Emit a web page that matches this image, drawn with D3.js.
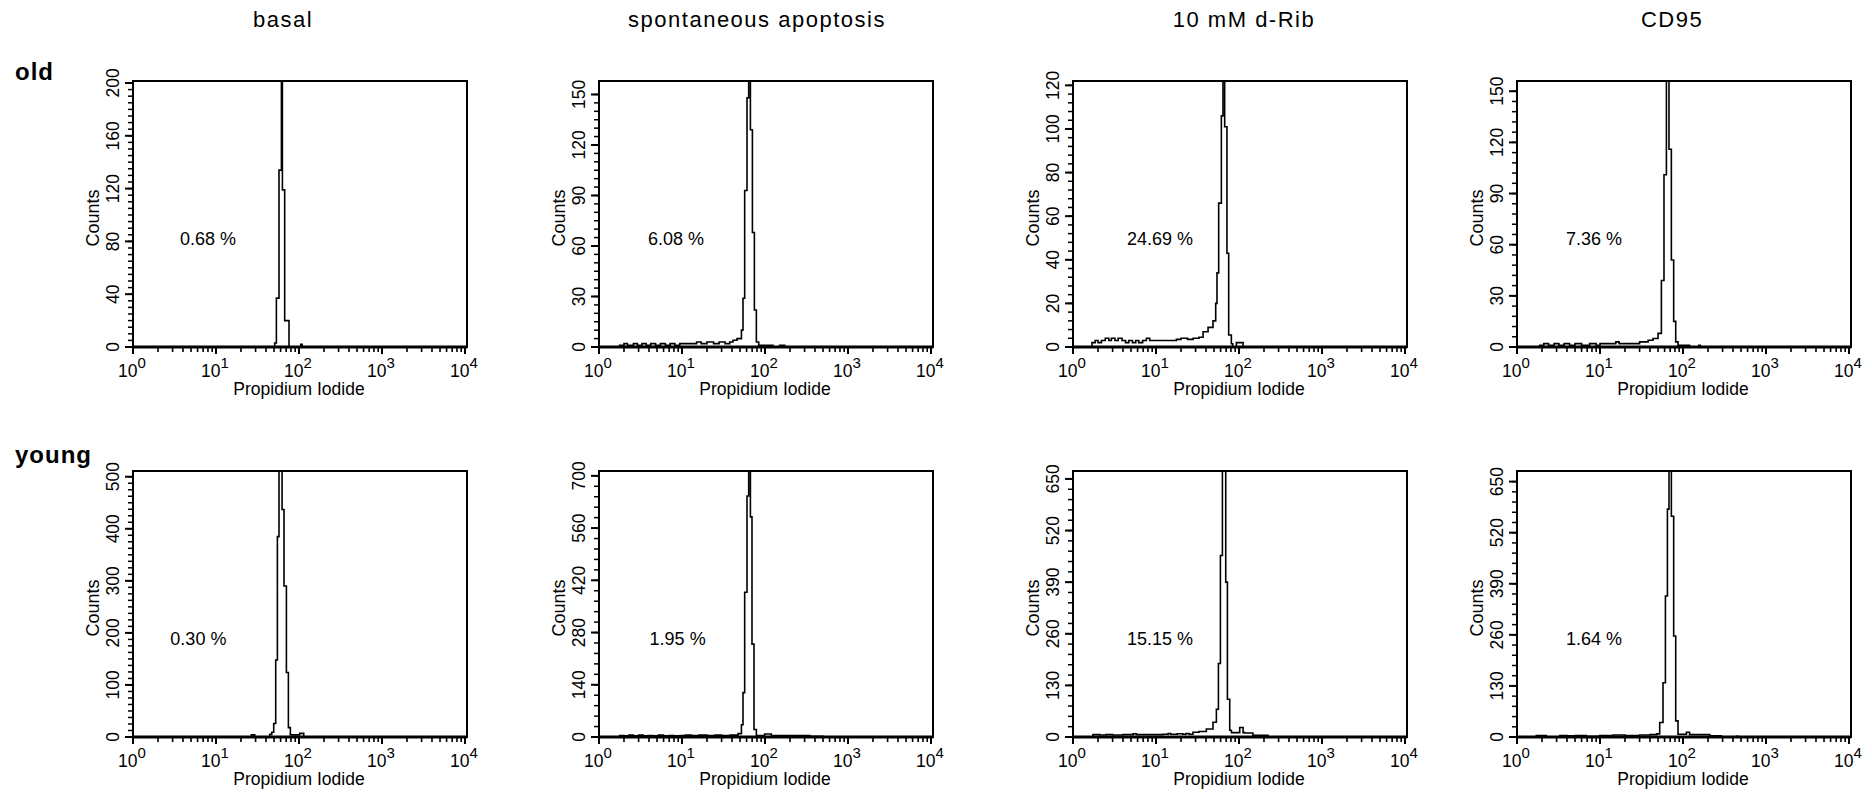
<!DOCTYPE html>
<html>
<head>
<meta charset="utf-8">
<script src="https://cdn.jsdelivr.net/npm/d3@7"></script>
<style>
  body { margin: 0; background: #fff; }
  svg { display: block; }
  text { font-family: Arial, "Liberation Sans", sans-serif; fill: #000; }
</style>
</head>
<body>
<svg id="chart" width="1872" height="793"></svg>
<script>
// column / row headers
var columns = ['basal', 'spontaneous apoptosis', '10 mM d-Rib', 'CD95'];
var rows = ['old', 'young'];
var percents = [['0.68 %', '6.08 %', '24.69 %', '7.36 %'],
                ['0.30 %', '1.95 %', '15.15 %', '1.64 %']];

// y axis per panel: domain max, highest labelled tick, label step, minor ticks per step
var yMax   = [[201.5, 158, 122, 156], [511, 713, 670, 677]];
var yTop   = [[200, 150, 120, 150], [500, 700, 650, 650]];
var yStep  = [[40, 30, 20, 30], [100, 140, 130, 130]];
var yMinor = [[8, 6, 5, 5], [8, 5, 5, 5]];

var xTicks = [1, 10, 100, 1000, 10000];
var xExp = ['0', '1', '2', '3', '4'];
// where the percentage label starts (propidium iodide units)
var labelAt = [[3.68, 3.89, 4.47, 3.89], [2.82, 4.07, 4.47, 3.89]];

// histograms: [propidium iodide at bin start, counts]  (peaks above the axis are clipped)
var oldBasal = [[1, 0], [51, 3], [53.4, 37], [57.4, 134], [61.4, 260], [63.1, 119], [67.2, 20],
  [75.8, 0], [105, 2], [109, 0]];
var oldSpont = [[1, 0], [1.77, 1], [2.0, 2], [2.2, 1], [2.6, 2], [2.9, 1], [3.3, 2], [3.7, 1],
  [4.2, 2], [4.8, 1], [5.5, 2], [6.3, 1], [7.2, 2], [8.2, 1], [9.4, 2], [13.6, 2], [15, 3], [17, 2],
  [20, 3], [24, 2], [28, 3], [33, 2], [37.6, 3], [41.1, 4], [46, 5], [52, 10], [54.3, 29],
  [56.9, 93], [60.7, 148], [63.6, 210], [66.7, 129], [70.5, 68], [74.5, 22], [78.7, 3], [84, 1],
  [125, 0], [150, 1], [173, 0]];
var oldRib = [[1, 0], [1.69, 2], [1.85, 3], [2.0, 2], [2.2, 3], [2.45, 4], [2.7, 3], [2.9, 4],
  [3.2, 3], [3.5, 4], [3.9, 3], [4.3, 2], [4.7, 3], [5.2, 2], [5.7, 3], [6.2, 2], [6.9, 3],
  [7.66, 4], [8.4, 3], [17.6, 3.5], [20, 4], [24, 3.5], [28, 4], [33, 4.5], [36.9, 7], [42.4, 9],
  [48.6, 12], [52.4, 20], [54.3, 34], [56.9, 66], [61.3, 106], [64.1, 150], [67.2, 101],
  [71.6, 43], [75.1, 5.5], [80.9, 1.5], [84, 0], [93, 2], [112, 0]];
var oldCd95 = [[1, 0], [1.88, 1], [2.1, 2], [2.4, 1], [2.8, 2], [3.2, 1], [3.7, 2], [4.3, 1],
  [5.0, 2], [6, 1], [7.5, 2], [9, 1], [10, 2], [14.4, 2], [15.5, 3], [17, 2], [30, 3], [38, 4],
  [43.5, 5], [50, 8], [54.9, 39], [59, 101], [63.1, 200], [67.8, 116], [72.4, 51], [77.2, 15],
  [81.7, 3], [87.1, 1], [120, 0], [155, 1], [162, 0]];

var youngBasal = [[1, 0], [26.7, 4], [29.3, 0], [44.4, 5], [47, 9], [49.6, 26], [52.4, 148],
  [54.9, 385], [57.4, 560], [62.5, 437], [66, 290], [70.5, 124], [74.5, 18], [78.7, 4], [102, 7],
  [114, 0]];
var youngSpont = [[1, 0], [1.77, 4], [2.0, 3], [2.3, 5], [2.6, 3], [3.0, 5], [3.4, 3], [3.9, 4],
  [4.5, 3], [5.2, 5], [6, 3], [7, 4], [8, 3], [9.5, 4], [11, 5], [13, 4], [16, 5], [20, 4], [25, 5],
  [30, 4], [38, 5], [47.3, 9], [52, 33], [54.3, 119], [56.9, 388], [60.7, 646], [63.6, 760],
  [66.7, 590], [69.7, 249], [73.7, 20], [78.7, 4], [99, 8], [119, 4], [346, 2], [500, 0]];
var youngRib = [[1, 0], [1.74, 6], [2.1, 5], [2.5, 6], [3, 5], [4, 6], [5.3, 8], [5.8, 6], [7, 6],
  [9, 6], [12.1, 7], [14, 9], [15, 7], [18, 8], [21, 7], [23, 9], [25, 7], [27.9, 12], [33, 14],
  [40.4, 20], [48.6, 37], [53.4, 70], [56.5, 185], [59.7, 457], [63.1, 720], [69.2, 390],
  [72.5, 95], [77.3, 17], [81, 11], [97.3, 11], [102, 24], [112, 11], [117, 10], [147, 4], [224, 0]];
var youngCd95 = [[1, 0], [1.71, 4], [2.26, 0], [3.27, 4], [4, 3], [5, 4], [6.85, 2], [9.9, 4],
  [14.4, 5], [20, 4], [30, 5], [40, 6], [48, 8], [52.4, 37], [57.4, 138], [61.4, 359], [64.9, 580],
  [67.8, 760], [72.4, 562], [77.2, 257], [81.7, 41], [87.1, 7], [110, 12], [120, 6], [210, 3],
  [290, 0], [440, 2], [460, 0]];

var hists = [[oldBasal, oldSpont, oldRib, oldCd95], [youngBasal, youngSpont, youngRib, youngCd95]];

// layout
var colLeft = [133, 599, 1073, 1517]
  , rowTop = [81, 471]
  , titleX = [283, 757, 1244, 1672]
  , rowLabelY = [80, 463]
  , labelDy = [164, 174]
  , plotW = 332
  , boxW = 334
  , plotH = 266;

var svg = d3.select('#chart');

svg.selectAll('text.title')
  .data(columns)
  .enter().append('text')
    .attr('class', 'title')
    .attr('x', function (d, i) { return titleX[i]; })
    .attr('y', 27)
    .style('font-size', '22px')
    .style('letter-spacing', '1.5px')
    .style('text-anchor', 'middle')
    .text(function (d) { return d; });

svg.selectAll('text.rowlabel')
  .data(rows)
  .enter().append('text')
    .attr('class', 'rowlabel')
    .attr('x', 15)
    .attr('y', function (d, i) { return rowLabelY[i]; })
    .style('font-size', '24px')
    .style('font-weight', 'bold')
    .style('letter-spacing', '1px')
    .text(function (d) { return d; });

var x = d3.scaleLog().domain([1, 10000]).range([0, plotW]);
var minorX = [];
for (var e = 0; e < 4; e++) {
  for (var m = 2; m < 10; m++) minorX.push(m * Math.pow(10, e));
}

// plain tick lines: bottom ticks hang below plotH, left ticks stick out left of 0
function xTickLines(g, values, len, width) {
  g.append('g').selectAll('line')
    .data(values)
    .enter().append('line')
      .attr('x1', function (d) { return x(d); })
      .attr('x2', function (d) { return x(d); })
      .attr('y1', plotH)
      .attr('y2', plotH + len)
      .style('stroke', '#000')
      .style('stroke-width', width);
}
function yTickLines(g, y, values, len, width) {
  g.append('g').selectAll('line')
    .data(values)
    .enter().append('line')
      .attr('x1', -len)
      .attr('x2', 0)
      .attr('y1', function (d) { return y(d); })
      .attr('y2', function (d) { return y(d); })
      .style('stroke', '#000')
      .style('stroke-width', width);
}

rows.forEach(function (rowName, r) {
  columns.forEach(function (colName, c) {
    var g = svg.append('g')
      .attr('transform', 'translate(' + colLeft[c] + ',' + rowTop[r] + ')');

    var y = d3.scaleLinear().domain([0, yMax[r][c]]).range([plotH, 0]);

    var major = d3.range(0, yTop[r][c] + 0.01, yStep[r][c]);
    var minor = [];
    var sub = yStep[r][c] / yMinor[r][c];
    for (var v = 0; v <= yTop[r][c] + 0.01; v += sub) minor.push(v);

    var clipId = 'clip' + r + c;
    g.append('clipPath').attr('id', clipId)
      .append('rect').attr('width', boxW).attr('height', plotH);

    // histogram as a step line
    var data = hists[r][c].concat([[10000, 0]]);
    var line = d3.line()
      .x(function (d) { return x(d[0]); })
      .y(function (d) { return y(d[1]); })
      .curve(d3.curveStepAfter);
    g.append('path')
      .datum(data)
      .attr('clip-path', 'url(#' + clipId + ')')
      .attr('d', line)
      .style('fill', 'none')
      .style('stroke', '#000')
      .style('stroke-width', 1.6);

    // frame
    g.append('rect')
      .attr('width', boxW)
      .attr('height', plotH)
      .style('fill', 'none')
      .style('stroke', '#000')
      .style('stroke-width', 2);

    // thick x axis line
    g.append('line')
      .attr('x1', 0).attr('x2', boxW)
      .attr('y1', y(0)).attr('y2', y(0))
      .style('stroke', '#000')
      .style('stroke-width', 3);

    xTickLines(g, xTicks, 7, 2);
    xTickLines(g, minorX, 5, 1.6);
    yTickLines(g, y, major, 8, 2);
    yTickLines(g, y, minor, 5, 1.5);

    // y tick labels, rotated
    g.selectAll('text.ylab')
      .data(major)
      .enter().append('text')
        .attr('class', 'ylab')
        .attr('transform', function (d) { return 'translate(-14,' + y(d) + ') rotate(-90)'; })
        .style('font-size', '17.5px')
        .style('text-anchor', 'middle')
        .text(function (d) { return d; });

    // x tick labels 10^n
    var xl = g.selectAll('text.xlab')
      .data(xTicks)
      .enter().append('text')
        .attr('class', 'xlab')
        .attr('x', function (d) { return x(d) - 1; })
        .attr('y', plotH + 30)
        .style('text-anchor', 'middle');
    xl.append('tspan').style('font-size', '17.5px').text('10');
    xl.append('tspan').style('font-size', '15px').attr('dy', -9)
      .text(function (d, i) { return xExp[i]; });

    g.append('text')
      .attr('x', plotW / 2)
      .attr('y', plotH + 47.5)
      .style('font-size', '17.5px')
      .style('text-anchor', 'middle')
      .text('Propidium Iodide');

    g.append('text')
      .attr('transform', 'translate(-34,137) rotate(-90)')
      .style('font-size', '18px')
      .style('text-anchor', 'middle')
      .text('Counts');

    g.append('text')
      .attr('x', x(labelAt[r][c]))
      .attr('y', labelDy[r])
      .style('font-size', '18px')
      .text(percents[r][c]);
  });
});
</script>
</body>
</html>
